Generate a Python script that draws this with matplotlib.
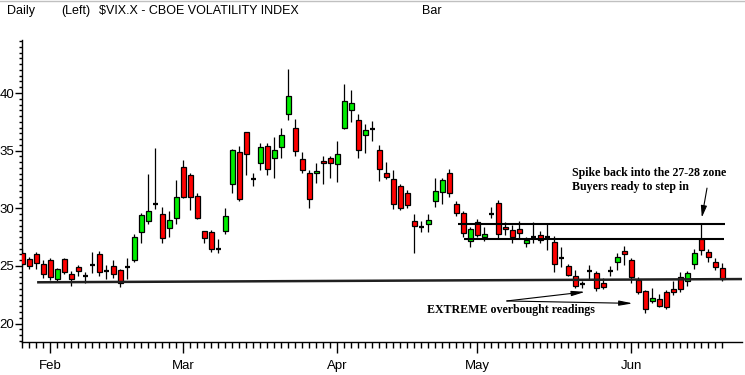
import matplotlib.pyplot as plt
from matplotlib.patches import Rectangle
from matplotlib.ticker import MultipleLocator

# Daily VIX candles, late Jan to Jun 20 (one entry per trading day)
opens = [26.1, 25.6, 26.0, 25.15, 25.5, 23.85, 25.6, 24.3, 24.9, 24.15,
         25.1, 26.0, 24.55, 25.0, 24.65, 24.95, 25.5, 27.95, 28.9, 30.4,
         29.5, 28.25, 29.15, 33.55, 32.9, 31.05, 28.0, 27.95, 26.45, 28.0,
         32.15, 34.85, 36.6, 32.55, 33.9, 35.4, 34.35, 35.3, 38.15, 37.0,
         34.25, 33.1, 33.05, 34.1, 34.35, 33.8, 37.0, 38.5, 37.7, 36.4,
         36.9, 35.05, 33.05, 32.5, 31.95, 31.3, 28.9, 28.4, 28.6, 30.65,
         31.4, 33.1, 30.35, 29.55, 27.15, 28.8, 27.55, 29.5, 30.5, 28.4,
         28.1, 28.2, 27.0, 27.55, 27.65, 27.5, 27.1, 25.65, 25.0, 24.15,
         23.4, 24.55, 24.35, 23.5, 24.6, 25.3, 26.3, 25.5, 23.8, 22.85,
         22.0, 22.1, 22.7, 23.0, 24.05, 23.65, 25.15, 27.3, 26.2, 25.3, 24.8]
highs = [26.5, 25.8, 26.25, 25.5, 25.7, 24.8, 25.65, 24.55, 25.05, 24.45,
         26.25, 26.3, 25.1, 25.5, 24.7, 25.7, 27.75, 29.6, 33.0, 35.2,
         30.1, 29.75, 32.45, 34.2, 33.1, 31.35, 28.05, 28.1, 27.35, 30.0,
         35.15, 35.4, 36.6, 33.1, 35.65, 35.7, 36.15, 36.95, 42.1, 37.75,
         34.85, 33.35, 33.95, 34.55, 34.55, 35.85, 40.8, 40.25, 38.15, 37.3,
         37.6, 35.45, 34.0, 33.35, 32.1, 31.6, 29.5, 28.9, 29.5, 32.6,
         32.65, 33.4, 30.65, 29.75, 28.4, 29.1, 28.4, 30.1, 30.7, 28.8,
         28.55, 28.9, 27.55, 28.8, 28.0, 28.6, 27.6, 26.6, 25.15, 24.65,
         23.7, 25.05, 24.6, 23.95, 25.0, 26.15, 26.75, 25.65, 24.05, 22.9,
         23.05, 22.55, 22.9, 23.65, 24.5, 24.6, 26.45, 28.6, 26.45, 25.65, 25.25]
lows = [25.0, 24.7, 24.7, 23.95, 23.8, 23.65, 24.3, 23.3, 24.1, 23.5,
        24.35, 24.15, 23.9, 23.95, 23.2, 23.85, 25.3, 27.0, 28.6, 29.95,
        27.0, 27.55, 28.6, 30.9, 29.85, 29.1, 26.95, 26.25, 26.15, 27.8,
        31.35, 30.6, 32.9, 31.9, 33.3, 32.85, 32.6, 34.4, 37.65, 34.55,
        33.05, 30.05, 32.2, 32.1, 32.65, 32.3, 36.9, 37.5, 34.35, 34.8,
        35.8, 32.4, 32.55, 29.9, 29.85, 30.05, 26.15, 27.9, 27.95, 30.15,
        30.4, 30.95, 29.3, 27.55, 26.65, 27.55, 27.2, 29.15, 27.45, 27.65,
        26.95, 27.4, 26.6, 26.95, 27.0, 26.35, 24.45, 24.95, 24.1, 23.1,
        23.05, 23.85, 22.85, 23.0, 24.15, 24.65, 25.1, 23.55, 22.6, 20.95,
        21.8, 21.45, 21.3, 22.45, 22.7, 23.25, 24.75, 25.95, 25.3, 24.65, 23.65]
closes = [25.15, 25.0, 25.25, 24.3, 24.0, 24.7, 24.45, 23.85, 24.55, 24.15,
          25.1, 24.5, 24.55, 24.3, 23.5, 24.95, 27.5, 29.4, 29.75, 30.4,
          27.4, 29.0, 30.95, 31.0, 30.95, 29.2, 27.45, 26.45, 26.45, 29.3,
          35.1, 30.8, 34.7, 32.55, 35.3, 33.4, 35.05, 36.4, 39.7, 35.0,
          33.35, 30.8, 33.25, 33.9, 33.9, 34.75, 39.35, 39.1, 35.05, 36.8,
          36.9, 33.4, 32.75, 30.35, 30.05, 30.25, 28.5, 28.4, 29.0, 31.5,
          32.45, 31.3, 29.6, 27.85, 28.2, 27.65, 27.8, 29.5, 27.8, 28.2,
          27.55, 27.85, 27.25, 27.55, 27.25, 27.5, 25.15, 25.65, 24.2, 23.25,
          23.4, 24.55, 23.05, 23.15, 24.6, 25.8, 26.0, 24.0, 22.75, 21.25,
          22.25, 21.55, 21.4, 22.7, 23.0, 24.35, 26.1, 26.4, 25.8, 24.95, 23.85]

# first trading day of each month (index into the lists above)
month_labels = ['Feb', 'Mar', 'Apr', 'May', 'Jun']
month_starts = [4, 23, 45, 65, 87]

# drawn-in trend lines: (start day, start value, end day, end value)
support_line = (2.1, 23.58, 102.8, 23.86)
zone_top = (62.3, 28.6, 100.4, 28.6)
zone_bottom = (63.1, 27.3, 100.2, 27.3)

RED = '#ff0000'
GREEN = '#00ee00'

fig = plt.figure(figsize=(7.45, 3.75), dpi=100)
ax = fig.add_axes([21.7 / 745, 33 / 375, (742 - 21.7) / 745, 302 / 375])

half = 0.36
for i, (o, h, l, c) in enumerate(zip(opens, highs, lows, closes)):
    ax.vlines(i, l, h, color='black', lw=0.9, zorder=2)
    if abs(c - o) < 0.02:
        ax.hlines(o, i - half, i + half, color='black', lw=1.6, zorder=3)
    else:
        ax.add_patch(Rectangle((i - half, min(o, c)), 2 * half, abs(c - o),
                               facecolor=GREEN if c > o else RED,
                               edgecolor='black', lw=0.9, zorder=3))

# support and resistance lines
x0, y0, x1, y1 = support_line
ax.plot([x0, x1], [y0, y1], color='#202020', lw=1.8, zorder=4, solid_capstyle='butt')
for x0, y0, x1, y1 in (zone_top, zone_bottom):
    ax.plot([x0, x1], [y0, y1], color='black', lw=1.5, zorder=4, solid_capstyle='butt')

ax.set_xlim(-0.1, 102.8)
ax.set_ylim(18.4, 44.6)

ax.set_xticks(month_starts)
ax.set_xticklabels(month_labels)
ax.set_xticks(range(len(opens)), minor=True)
ax.set_yticks([20, 25, 30, 35, 40])
ax.yaxis.set_minor_locator(MultipleLocator(0.5))

ax.tick_params(axis='x', which='major', length=8, width=1, pad=5,
               labelsize=9.5, colors='black')
ax.tick_params(axis='x', which='minor', length=4, width=1)
ax.tick_params(axis='y', which='major', length=5, width=1, pad=0.5, labelsize=9.5)
ax.tick_params(axis='y', which='minor', length=2.5, width=1)
for lab in ax.get_xticklabels() + ax.get_yticklabels():
    lab.set_family('Liberation Sans')

for side in ('top', 'right'):
    ax.spines[side].set_visible(False)
for side in ('left', 'bottom'):
    ax.spines[side].set_linewidth(1)

# annotations
serif = dict(family='Liberation Serif', fontweight='bold', fontsize=8.6, color='black')
ax.text(78.55, 33.04, 'Spike back into the 27-28 zone', va='center', **serif)
ax.text(78.55, 31.83, 'Buyers ready to step in', va='center', **serif)
ax.annotate('', xy=(97.06, 29.2), xytext=(97.8, 31.75),
            arrowprops=dict(arrowstyle='-|>,head_length=0.7,head_width=0.18',
                            color='black', lw=0.8, shrinkA=0, shrinkB=0))

ax.text(57.8, 21.18, 'EXTREME overbought readings', va='center', **serif)
for end in ((80.4, 22.75), (87.2, 21.75)):
    ax.annotate('', xy=end, xytext=(69.2, 21.96),
                arrowprops=dict(arrowstyle='-|>,head_length=0.8,head_width=0.15',
                                color='black', lw=0.8, shrinkA=0, shrinkB=0))

# header strip
head = dict(fontsize=9, family='Liberation Sans', va='center', color='black')
fig.text(7 / 745, 1 - 11 / 375, 'Daily', **head)
fig.text(61.7 / 745, 1 - 11 / 375, '(Left)', **head)
fig.text(99.3 / 745, 1 - 11 / 375, '$VIX.X - CBOE VOLATILITY INDEX', **head)
fig.text(421.7 / 745, 1 - 11 / 375, 'Bar', **head)
fig.add_artist(plt.Line2D([0, 1], [1 - 0.5 / 375] * 2, color='#c0c0c0', lw=1))

fig.savefig('out.png', dpi=100)
